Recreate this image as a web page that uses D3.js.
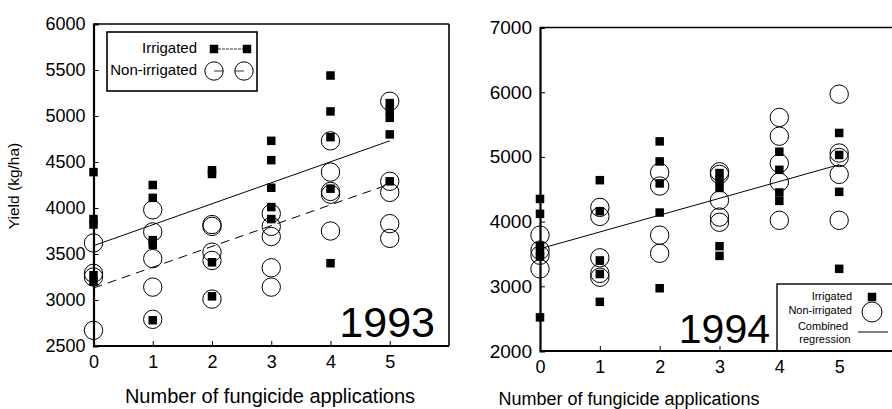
<!DOCTYPE html>
<html><head><meta charset="utf-8">
<script src="https://cdn.jsdelivr.net/npm/d3@7"></script>
<style>body{margin:0;background:#fff}svg{display:block;font-family:"Liberation Sans",Arial,sans-serif}</style>
</head><body><svg id="c" width="892" height="409"></svg>
<script>
// ---- data ----
const applications = [0, 1, 2, 3, 4, 5];
// 1993
const irrigated1993 = [
  [4390, 3880, 3820, 3270, 3200],
  [4250, 4110, 3650, 3600, 2780],
  [4410, 4370, 3410, 3040],
  [4730, 4520, 4220, 4010, 3880],
  [5440, 5050, 4770, 4210, 3400],
  [5140, 5060, 4980, 4800, 4290]
];
const nonIrrigated1993 = [
  [3620, 3290, 3250, 2670],
  [3980, 3740, 3450, 3140, 2790],
  [3820, 3800, 3520, 3430, 3010],
  [3940, 3800, 3690, 3350, 3140],
  [4730, 4390, 4180, 4150, 3750],
  [5160, 4290, 4170, 3830, 3670]
];
const irrigatedLine1993 = [3590, 4730];      // fitted values at 0 and 5
const nonIrrigatedLine1993 = [3130, 4260];
// 1994
const irrigated1994 = [
  [4350, 4120, 3620, 3540, 3460, 2520],
  [4640, 4160, 3400, 3190, 2760],
  [5240, 4930, 4590, 4140, 2970],
  [4750, 4640, 4520, 3620, 3470],
  [5080, 4800, 4450, 4320],
  [5370, 5030, 4460, 3270]
];
const nonIrrigated1994 = [
  [3790, 3560, 3480, 3270],
  [4220, 4080, 3440, 3200, 3140],
  [4760, 4550, 3790, 3510],
  [4770, 4730, 4330, 4070, 3990],
  [5610, 5320, 4900, 4610, 4020],
  [5970, 5060, 4990, 4730, 4020]
];
const combinedLine1994 = [3580, 4880];
const yTicks1993 = [2500, 3000, 3500, 4000, 4500, 5000, 5500, 6000];
const yTicks1994 = [2000, 3000, 4000, 5000, 6000, 7000];
const xTickLabels = ["0", "1", "2", "3", "4", "5"];
const yTitle = "Yield (kg/ha)";
const xTitle = "Number of fungicide applications";

// ---- drawing ----
const svg = d3.select("#c");
const SQ = 8.5, R = 9.2;

function flat(arr) {
  const out = [];
  arr.forEach((vals, i) => vals.forEach(v => out.push([applications[i], v])));
  return out;
}

function panel(opt) {
  const g = svg.append("g");
  const x = d3.scaleLinear().domain([0, 6]).range(opt.xr);
  const y = d3.scaleLinear().domain(opt.yd).range(opt.yr);
  // frame top/right
  g.append("line").attr("x1", x(0)).attr("x2", x(6)).attr("y1", y(opt.yd[1])).attr("y2", y(opt.yd[1]))
    .attr("stroke", "#000").attr("stroke-width", 1.6);
  if (opt.rightEdge) g.append("line").attr("x1", x(6)).attr("x2", x(6)).attr("y1", y(opt.yd[0])).attr("y2", y(opt.yd[1]))
    .attr("stroke", "#000").attr("stroke-width", 1.6);
  // axes
  const ya = d3.axisLeft(y).tickValues(opt.yTicks).tickSize(-5).tickPadding(8).tickFormat(d3.format("d"));
  const yg = g.append("g").attr("transform", `translate(${x(0)},0)`).call(ya);
  yg.select(".domain").attr("stroke-width", 2.2);
  yg.selectAll(".tick text").attr("font-size", opt.yFont).attr("fill", "#000").attr("font-family", "Liberation Sans, Arial");
  yg.selectAll(".tick line").attr("stroke-width", 1);
  const xa = d3.axisBottom(x).tickValues(applications).tickSize(-5).tickPadding(9).tickFormat((d, i) => xTickLabels[i]);
  const xg = g.append("g").attr("transform", `translate(0,${y(opt.yd[0])})`).call(xa);
  xg.select(".domain").attr("stroke-width", 2.2).attr("d", `M${x(0)},0H${x(6)}`);
  xg.selectAll(".tick text").attr("font-size", 18).attr("fill", "#000").attr("font-family", "Liberation Sans, Arial");
  xg.selectAll(".tick line").attr("stroke-width", 1);
  // x title
  g.append("text").attr("x", opt.xTitleX).attr("y", opt.xTitleY).attr("text-anchor", "middle")
    .attr("font-size", opt.xTitleFont).text(xTitle);
  return {g, x, y};
}

function points(p, circles, squares) {
  p.g.append("g").selectAll("circle").data(flat(circles)).join("circle")
    .attr("cx", d => p.x(d[0])).attr("cy", d => p.y(d[1])).attr("r", R)
    .attr("fill", "none").attr("stroke", "#000").attr("stroke-width", 1);
  p.g.append("g").selectAll("rect").data(flat(squares)).join("rect")
    .attr("x", d => p.x(d[0]) - SQ / 2).attr("y", d => p.y(d[1]) - SQ / 2)
    .attr("width", SQ).attr("height", SQ).attr("fill", "#000");
}
function regLine(p, vals, dash) {
  p.g.append("line").attr("x1", p.x(0)).attr("y1", p.y(vals[0])).attr("x2", p.x(5)).attr("y2", p.y(vals[1]))
    .attr("stroke", "#000").attr("stroke-width", 1).attr("stroke-dasharray", dash || null);
}

// 1993 panel
const p1 = panel({xr: [93.5, 449], yd: [2500, 6000], yr: [346, 24], yTicks: yTicks1993, yFont: 18,
  rightEdge: true, xTitleX: 270, xTitleY: 403, xTitleFont: 20});
regLine(p1, irrigatedLine1993);
regLine(p1, nonIrrigatedLine1993, "9,6");
points(p1, nonIrrigated1993, irrigated1993);
p1.g.append("text").attr("x", 435).attr("y", 337).attr("text-anchor", "end").attr("font-size", 43).text("1993");
// legend 1993
const l1 = p1.g.append("g");
l1.append("rect").attr("x", 107).attr("y", 32).attr("width", 150).attr("height", 59)
  .attr("fill", "#fff").attr("stroke", "#000").attr("stroke-width", 1.6);
l1.append("text").attr("x", 197).attr("y", 53).attr("text-anchor", "end").attr("font-size", 15).text("Irrigated");
l1.append("text").attr("x", 197).attr("y", 75).attr("text-anchor", "end").attr("font-size", 15).text("Non-irrigated");
l1.append("line").attr("x1", 214).attr("x2", 247).attr("y1", 49).attr("y2", 49).attr("stroke", "#000").attr("stroke-width", 0.8).attr("stroke-dasharray", "3,1");
l1.append("rect").attr("x", 214 - SQ / 2).attr("y", 49 - SQ / 2).attr("width", SQ).attr("height", SQ);
l1.append("rect").attr("x", 247 - SQ / 2).attr("y", 49 - SQ / 2).attr("width", SQ).attr("height", SQ);
l1.append("line").attr("x1", 214).attr("x2", 223).attr("y1", 71).attr("y2", 71).attr("stroke", "#000").attr("stroke-width", 0.8);
l1.append("line").attr("x1", 235).attr("x2", 244).attr("y1", 71).attr("y2", 71).attr("stroke", "#000").attr("stroke-width", 0.8);
l1.append("circle").attr("cx", 214).attr("cy", 71).attr("r", R).attr("fill", "none").attr("stroke", "#000");
l1.append("circle").attr("cx", 244).attr("cy", 71).attr("r", R).attr("fill", "none").attr("stroke", "#000");

// y title
svg.append("text").attr("transform", "translate(19,186) rotate(-90)").attr("text-anchor", "middle")
  .attr("font-size", 15.5).text(yTitle);

// 1994 panel
const p2 = panel({xr: [540, 899], yd: [2000, 7000], yr: [351, 27.5], yTicks: yTicks1994, yFont: 19,
  rightEdge: false, xTitleX: 629, xTitleY: 405, xTitleFont: 18});
regLine(p2, combinedLine1994);
points(p2, nonIrrigated1994, irrigated1994);
p2.g.append("text").attr("x", 770).attr("y", 343).attr("text-anchor", "end").attr("font-size", 41).text("1994");
// legend 1994
const l2 = p2.g.append("g");
l2.append("rect").attr("x", 777).attr("y", 284).attr("width", 130).attr("height", 67)
  .attr("fill", "#fff").attr("stroke", "#000").attr("stroke-width", 1.4);
l2.append("text").attr("x", 852).attr("y", 300).attr("text-anchor", "end").attr("font-size", 11).text("Irrigated");
l2.append("text").attr("x", 852).attr("y", 314).attr("text-anchor", "end").attr("font-size", 11).text("Non-irrigated");
l2.append("text").attr("x", 823).attr("y", 330).attr("text-anchor", "middle").attr("font-size", 11).text("Combined");
l2.append("text").attr("x", 825).attr("y", 343).attr("text-anchor", "middle").attr("font-size", 11).text("regression");
l2.append("rect").attr("x", 872 - SQ / 2).attr("y", 297 - SQ / 2).attr("width", SQ).attr("height", SQ);
l2.append("circle").attr("cx", 872).attr("cy", 312).attr("r", 10).attr("fill", "none").attr("stroke", "#000");
l2.append("line").attr("x1", 858).attr("x2", 888).attr("y1", 332).attr("y2", 332).attr("stroke", "#000").attr("stroke-width", 1);
// redraw bottom axis over legend
p2.g.append("line").attr("x1", 540).attr("x2", 892).attr("y1", 351).attr("y2", 351).attr("stroke", "#000").attr("stroke-width", 2.2);
</script></body></html>
